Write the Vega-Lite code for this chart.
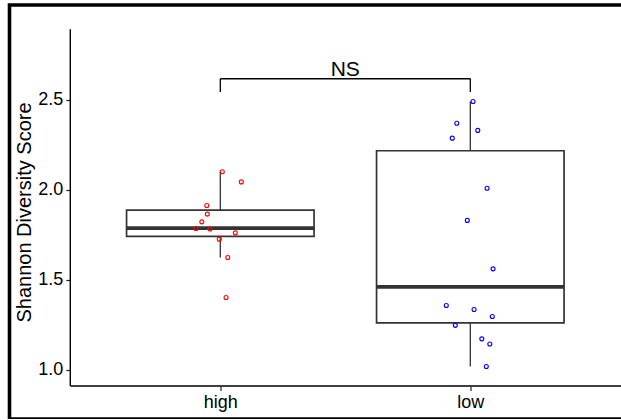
{
  "$schema": "https://vega.github.io/schema/vega-lite/v6.json",
  "autosize": "none",
  "width": 620,
  "height": 414,
  "padding": {"left": 9.5, "top": 5, "right": 0, "bottom": 0},
  "background": "white",
  "config": {
    "view": {"stroke": "black", "strokeWidth": 3.6, "fill": "white"},
    "font": "Liberation Sans",
    "scale": {"continuousPadding": 0},
    "axisX": {
      "offset": -33, "domain": false, "grid": false,
      "ticks": true, "tickColor": "#222", "tickWidth": 1.2, "tickSize": 4.5,
      "labelFont": "Liberation Sans", "labelFontSize": 18, "labelColor": "black",
      "labelPadding": 2.5, "labelFlush": false
    },
    "axisY": {
      "offset": -60.8, "domain": false, "grid": false,
      "tickColor": "#222", "tickWidth": 1.2, "tickSize": 4.5,
      "labelFont": "Liberation Sans", "labelFontSize": 18, "labelColor": "black",
      "labelPadding": 3, "labelFlush": false,
      "titleFont": "Liberation Sans", "titleFontSize": 20, "titleFontWeight": "normal",
      "titleColor": "black", "titlePadding": 3
    }
  },
  "datasets": {
    "points": [
      {"group": "high", "xpos": 1.008, "score": 2.100},
      {"group": "high", "xpos": 1.084, "score": 2.044},
      {"group": "high", "xpos": 0.946, "score": 1.913},
      {"group": "high", "xpos": 0.948, "score": 1.865},
      {"group": "high", "xpos": 0.926, "score": 1.822},
      {"group": "high", "xpos": 0.903, "score": 1.785},
      {"group": "high", "xpos": 0.959, "score": 1.782},
      {"group": "high", "xpos": 1.060, "score": 1.761},
      {"group": "high", "xpos": 0.996, "score": 1.726},
      {"group": "high", "xpos": 1.030, "score": 1.624},
      {"group": "high", "xpos": 1.023, "score": 1.402},
      {"group": "low", "xpos": 2.011, "score": 2.491},
      {"group": "low", "xpos": 1.946, "score": 2.370},
      {"group": "low", "xpos": 2.030, "score": 2.330},
      {"group": "low", "xpos": 1.928, "score": 2.287},
      {"group": "low", "xpos": 2.067, "score": 2.009},
      {"group": "low", "xpos": 1.988, "score": 1.830},
      {"group": "low", "xpos": 2.091, "score": 1.561},
      {"group": "low", "xpos": 1.904, "score": 1.357},
      {"group": "low", "xpos": 2.015, "score": 1.335},
      {"group": "low", "xpos": 2.088, "score": 1.296},
      {"group": "low", "xpos": 1.940, "score": 1.247},
      {"group": "low", "xpos": 2.046, "score": 1.172},
      {"group": "low", "xpos": 2.078, "score": 1.143},
      {"group": "low", "xpos": 2.064, "score": 1.018}
    ],
    "boxes": [
      {"group": "high", "pos": 1, "lower": 1.624, "q1": 1.741, "median": 1.787, "q3": 1.887, "upper": 2.100},
      {"group": "low", "pos": 2, "lower": 1.018, "q1": 1.261, "median": 1.461, "q3": 2.217, "upper": 2.491}
    ],
    "bracket": [
      {"x": 1, "x2": 2, "y": 2.617, "y2": 2.617},
      {"x": 1, "x2": 1, "y": 2.544, "y2": 2.617},
      {"x": 2, "x2": 2, "y": 2.544, "y2": 2.617}
    ],
    "axislines": [
      {"x": 0.4, "x2": 0.4, "y": 0.91, "y2": 2.892},
      {"x": 0.4, "x2": 2.64, "y": 0.91, "y2": 0.91}
    ],
    "label": [
      {"x": 1.5, "y": 2.63, "text": "NS"}
    ]
  },
  "layer": [
    {
      "data": {"name": "boxes"},
      "mark": {"type": "rule", "color": "#333333", "strokeWidth": 1.3},
      "encoding": {
        "x": {"field": "pos", "type": "quantitative",
          "scale": {"domain": [0.1568, 2.6368], "nice": false, "zero": false, "padding": 0},
          "axis": {"title": null, "values": [1, 2], "labelExpr": "datum.value == 1 ? 'high' : 'low'"}},
        "y": {"field": "lower", "type": "quantitative",
          "scale": {"domain": [0.7267, 3.0267], "nice": false, "zero": false, "padding": 0},
          "axis": {"title": "Shannon Diversity Score", "values": [1, 1.5, 2, 2.5], "format": ".1f"}},
        "y2": {"field": "upper"}
      }
    },
    {
      "data": {"name": "boxes"},
      "mark": {"type": "bar", "width": 187.5, "fill": "white", "stroke": "#333333", "strokeWidth": 1.7},
      "encoding": {
        "x": {"field": "pos", "type": "quantitative",
          "axis": {"title": null, "values": [1, 2], "labelExpr": "datum.value == 1 ? 'high' : 'low'"}},
        "y": {"field": "q1", "type": "quantitative",
          "axis": {"title": "Shannon Diversity Score", "values": [1, 1.5, 2, 2.5], "format": ".1f"}},
        "y2": {"field": "q3"}
      }
    },
    {
      "data": {"name": "boxes"},
      "mark": {"type": "tick", "orient": "horizontal", "size": 187.5, "thickness": 3.6, "color": "#333333", "opacity": 1},
      "encoding": {
        "x": {"field": "pos", "type": "quantitative",
          "axis": {"title": null, "values": [1, 2], "labelExpr": "datum.value == 1 ? 'high' : 'low'"}},
        "y": {"field": "median", "type": "quantitative",
          "axis": {"title": "Shannon Diversity Score", "values": [1, 1.5, 2, 2.5], "format": ".1f"}}
      }
    },
    {
      "data": {"name": "points"},
      "mark": {"type": "point", "shape": "circle", "filled": false, "size": 16, "strokeWidth": 1.1, "opacity": 1},
      "encoding": {
        "x": {"field": "xpos", "type": "quantitative",
          "axis": {"title": null, "values": [1, 2], "labelExpr": "datum.value == 1 ? 'high' : 'low'"}},
        "y": {"field": "score", "type": "quantitative",
          "axis": {"title": "Shannon Diversity Score", "values": [1, 1.5, 2, 2.5], "format": ".1f"}},
        "color": {"field": "group", "type": "nominal", "scale": {"domain": ["high", "low"], "range": ["#FF0000", "#0000FF"]}, "legend": null}
      }
    },
    {
      "data": {"name": "bracket"},
      "mark": {"type": "rule", "color": "black", "strokeWidth": 1.3},
      "encoding": {
        "x": {"field": "x", "type": "quantitative",
          "axis": {"title": null, "values": [1, 2], "labelExpr": "datum.value == 1 ? 'high' : 'low'"}},
        "x2": {"field": "x2"},
        "y": {"field": "y", "type": "quantitative",
          "axis": {"title": "Shannon Diversity Score", "values": [1, 1.5, 2, 2.5], "format": ".1f"}},
        "y2": {"field": "y2"}
      }
    },
    {
      "data": {"name": "axislines"},
      "mark": {"type": "rule", "color": "black", "strokeWidth": 1.4},
      "encoding": {
        "x": {"field": "x", "type": "quantitative",
          "axis": {"title": null, "values": [1, 2], "labelExpr": "datum.value == 1 ? 'high' : 'low'"}},
        "x2": {"field": "x2"},
        "y": {"field": "y", "type": "quantitative",
          "axis": {"title": "Shannon Diversity Score", "values": [1, 1.5, 2, 2.5], "format": ".1f"}},
        "y2": {"field": "y2"}
      }
    },
    {
      "data": {"name": "label"},
      "mark": {"type": "text", "font": "Liberation Sans", "fontSize": 21, "color": "black", "baseline": "alphabetic", "align": "center"},
      "encoding": {
        "x": {"field": "x", "type": "quantitative",
          "axis": {"title": null, "values": [1, 2], "labelExpr": "datum.value == 1 ? 'high' : 'low'"}},
        "y": {"field": "y", "type": "quantitative",
          "axis": {"title": "Shannon Diversity Score", "values": [1, 1.5, 2, 2.5], "format": ".1f"}},
        "text": {"field": "text"}
      }
    }
  ]
}
